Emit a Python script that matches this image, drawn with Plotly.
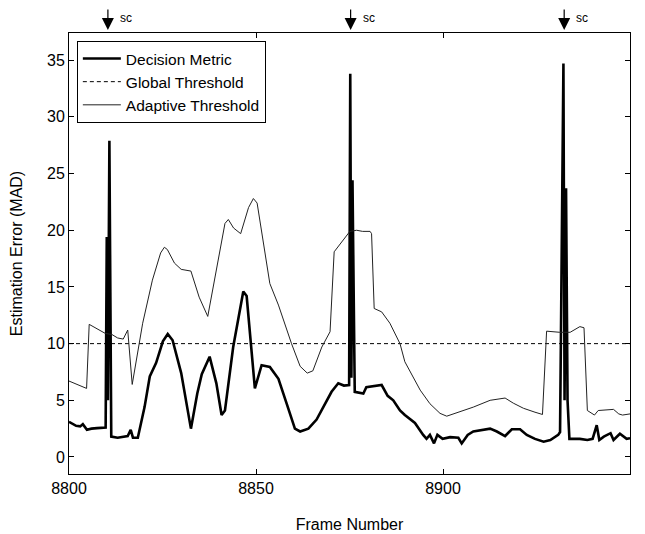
import plotly.graph_objects as go

# ---- data ----
metric_frames = [8800, 8801.9, 8803.0, 8803.7, 8804.8, 8806, 8807.5, 8809.4, 8809.8, 8810.1, 8810.4, 8810.8, 8811.3,
                 8813, 8814.5, 8815.7, 8816.5, 8817.1, 8818.4, 8820.2, 8821.6, 8823.3, 8825.1, 8826.4, 8827.7,
                 8830, 8832.6, 8834.3, 8835.5, 8837.6, 8839.4, 8840.8, 8841.7, 8843.9, 8846.6, 8847.5, 8849.7,
                 8851.5, 8853.7, 8856, 8858.2, 8860.4, 8861.8, 8864, 8866.2, 8868.4, 8870.2, 8872, 8873.5,
                 8874.9, 8875.2, 8875.5, 8875.8, 8876.1, 8876.4, 8878.7, 8879.5, 8883.6, 8885.2, 8886.7,
                 8888.5, 8889.8, 8892.5, 8894.7, 8895.6, 8896.5, 8897.6, 8898.5, 8899.9, 8901.9, 8904.1,
                 8905, 8906.6, 8908.1, 8911.7, 8912.6, 8914.4, 8916.6, 8918.4, 8920.6, 8922.4, 8924.6,
                 8926.9, 8928.7, 8930.8, 8931.3, 8932.2, 8932.5, 8932.9, 8933.3, 8933.8, 8936.6, 8938.6,
                 8940, 8941.1, 8941.8, 8943, 8944.8, 8945.6, 8947.3, 8949.1, 8950]
metric_values = [3.1, 2.75, 2.7, 2.9, 2.4, 2.5, 2.55, 2.6, 2.6, 19.4, 5.0, 27.9, 1.8,
                 1.7, 1.8, 1.85, 2.4, 1.7, 1.7, 4.4, 7.1, 8.3, 10.2, 10.85, 10.3,
                 7.4, 2.5, 5.6, 7.3, 8.85, 6.5, 3.7, 4.1, 9.7, 14.6, 14.2, 6.05,
                 8.1, 7.95, 6.9, 4.7, 2.5, 2.25, 2.5, 3.3, 4.7, 5.75, 6.5, 6.3,
                 6.35, 33.8, 7.0, 24.4, 15.0, 5.75, 5.6, 6.15, 6.35, 5.4, 5.0,
                 4.1, 3.7, 3.0, 1.95, 1.6, 1.95, 1.2, 1.95, 1.6, 1.75, 1.7,
                 1.2, 1.95, 2.25, 2.4, 2.5, 2.25, 1.85, 2.45, 2.45, 1.95, 1.6,
                 1.35, 1.5, 1.95, 2.2, 34.7, 5.0, 23.7, 5.0, 1.6, 1.6, 1.5,
                 1.6, 2.8, 1.5, 1.8, 2.1, 1.5, 2.05, 1.6, 1.65]

adaptive_frames = [8800, 8804.7, 8805.4, 8809.7, 8811.5, 8813, 8814.5, 8815.7, 8816.9, 8819.7, 8822.3, 8824.5,
                   8825.5, 8826.3, 8828.2, 8830, 8832.6, 8834.8, 8837.1, 8839.3, 8841.7, 8842.6, 8844, 8845.9,
                   8848, 8849.3, 8850.3, 8853.7, 8856, 8859.5, 8861.8, 8863.7, 8865.2, 8867.6, 8869.8, 8870.9,
                   8873.3, 8875.1, 8876.9, 8878.5, 8880.5, 8880.9, 8881.6, 8883.6, 8885.8, 8888.5, 8889.8,
                   8893.9, 8896.5, 8899.2, 8901, 8904.5, 8908.1, 8912.6, 8916.6, 8918.8, 8921.5, 8924.6,
                   8926.6, 8927.7, 8931.2, 8934.0, 8936.6, 8937.7, 8938.6, 8940.5, 8941.5, 8945.6, 8947,
                   8948, 8950]
adaptive_values = [6.7, 6.05, 11.7, 10.9, 10.8, 10.5, 10.4, 11.2, 6.4, 11.8, 15.6, 18.0,
                   18.5, 18.3, 17.1, 16.55, 16.4, 14.1, 12.4, 16.5, 20.6, 20.95, 20.2, 19.7,
                   22.0, 22.8, 22.4, 15.3, 13.4, 10.0, 8.0, 7.4, 7.6, 9.7, 11.05, 18.1,
                   19.1, 19.9, 20.0, 19.9, 19.9, 19.7, 13.1, 12.8, 11.8, 10.0, 8.4,
                   5.9, 4.7, 3.85, 3.6, 4.0, 4.4, 5.0, 5.2, 4.75, 4.3, 3.95,
                   3.75, 11.1, 11.0, 11.0, 11.5, 11.4, 4.1, 3.7, 4.1, 4.2, 3.8,
                   3.7, 3.8]

global_threshold = 10
frame_range = [8800, 8950]
sc_frames = [8810.4, 8875.3, 8932.4]
sc_label = "sc"
x_ticks = [8800, 8850, 8900, 8950]
y_ticks = [0, 5, 10, 15, 20, 25, 30, 35]

FONT = "Liberation Sans, Arial, sans-serif"

fig = go.Figure()
fig.add_trace(go.Scatter(x=metric_frames, y=metric_values, mode="lines", name="Decision Metric",
                         line=dict(color="black", width=2.6)))
fig.add_trace(go.Scatter(x=frame_range, y=[global_threshold, global_threshold], mode="lines",
                         name="Global Threshold", line=dict(color="black", width=1, dash="4px,3px")))
fig.add_trace(go.Scatter(x=adaptive_frames, y=adaptive_values, mode="lines", name="Adaptive Threshold",
                         line=dict(color="#222222", width=1)))

for f in sc_frames:
    fig.add_annotation(x=f, y=1.007, xref="x", yref="paper", text="", showarrow=True,
                       ax=0, ay=-27, arrowhead=2, arrowsize=2.0, arrowwidth=1.2, arrowcolor="black")
    fig.add_annotation(x=f, y=1.034, xref="x", yref="paper", text=sc_label, showarrow=False,
                       xanchor="left", yanchor="middle", xshift=10,
                       font=dict(size=12, color="black", family=FONT))

axis_common = dict(showline=True, linecolor="black", linewidth=1, mirror="allticks", ticks="inside",
                   ticklen=5, tickcolor="black", showgrid=False, zeroline=False, automargin=False,
                   tickfont=dict(size=16, color="black", family=FONT))

# the page adds an 8px body margin, so the figure is sized to fit the window with it
fig.update_layout(
    width=637, height=526,
    margin=dict(l=61, r=15, t=25, b=60),
    paper_bgcolor="white", plot_bgcolor="white",
    font=dict(family=FONT, color="black"),
    showlegend=True,
    legend=dict(x=0.014, y=0.982, xanchor="left", yanchor="top", bgcolor="white",
                bordercolor="black", borderwidth=1, font=dict(size=15.5, color="black", family=FONT),
                tracegroupgap=0, itemwidth=38),
    xaxis=dict(range=frame_range, tickvals=x_ticks, title=dict(text="Frame Number", standoff=22,
               font=dict(size=16, family=FONT)), **axis_common),
    yaxis=dict(range=[-1.5, 37.4], tickvals=y_ticks, title=dict(text="Estimation Error (MAD)", standoff=20,
               font=dict(size=16, family=FONT)), **axis_common),
)

fig.write_html("out.html")
